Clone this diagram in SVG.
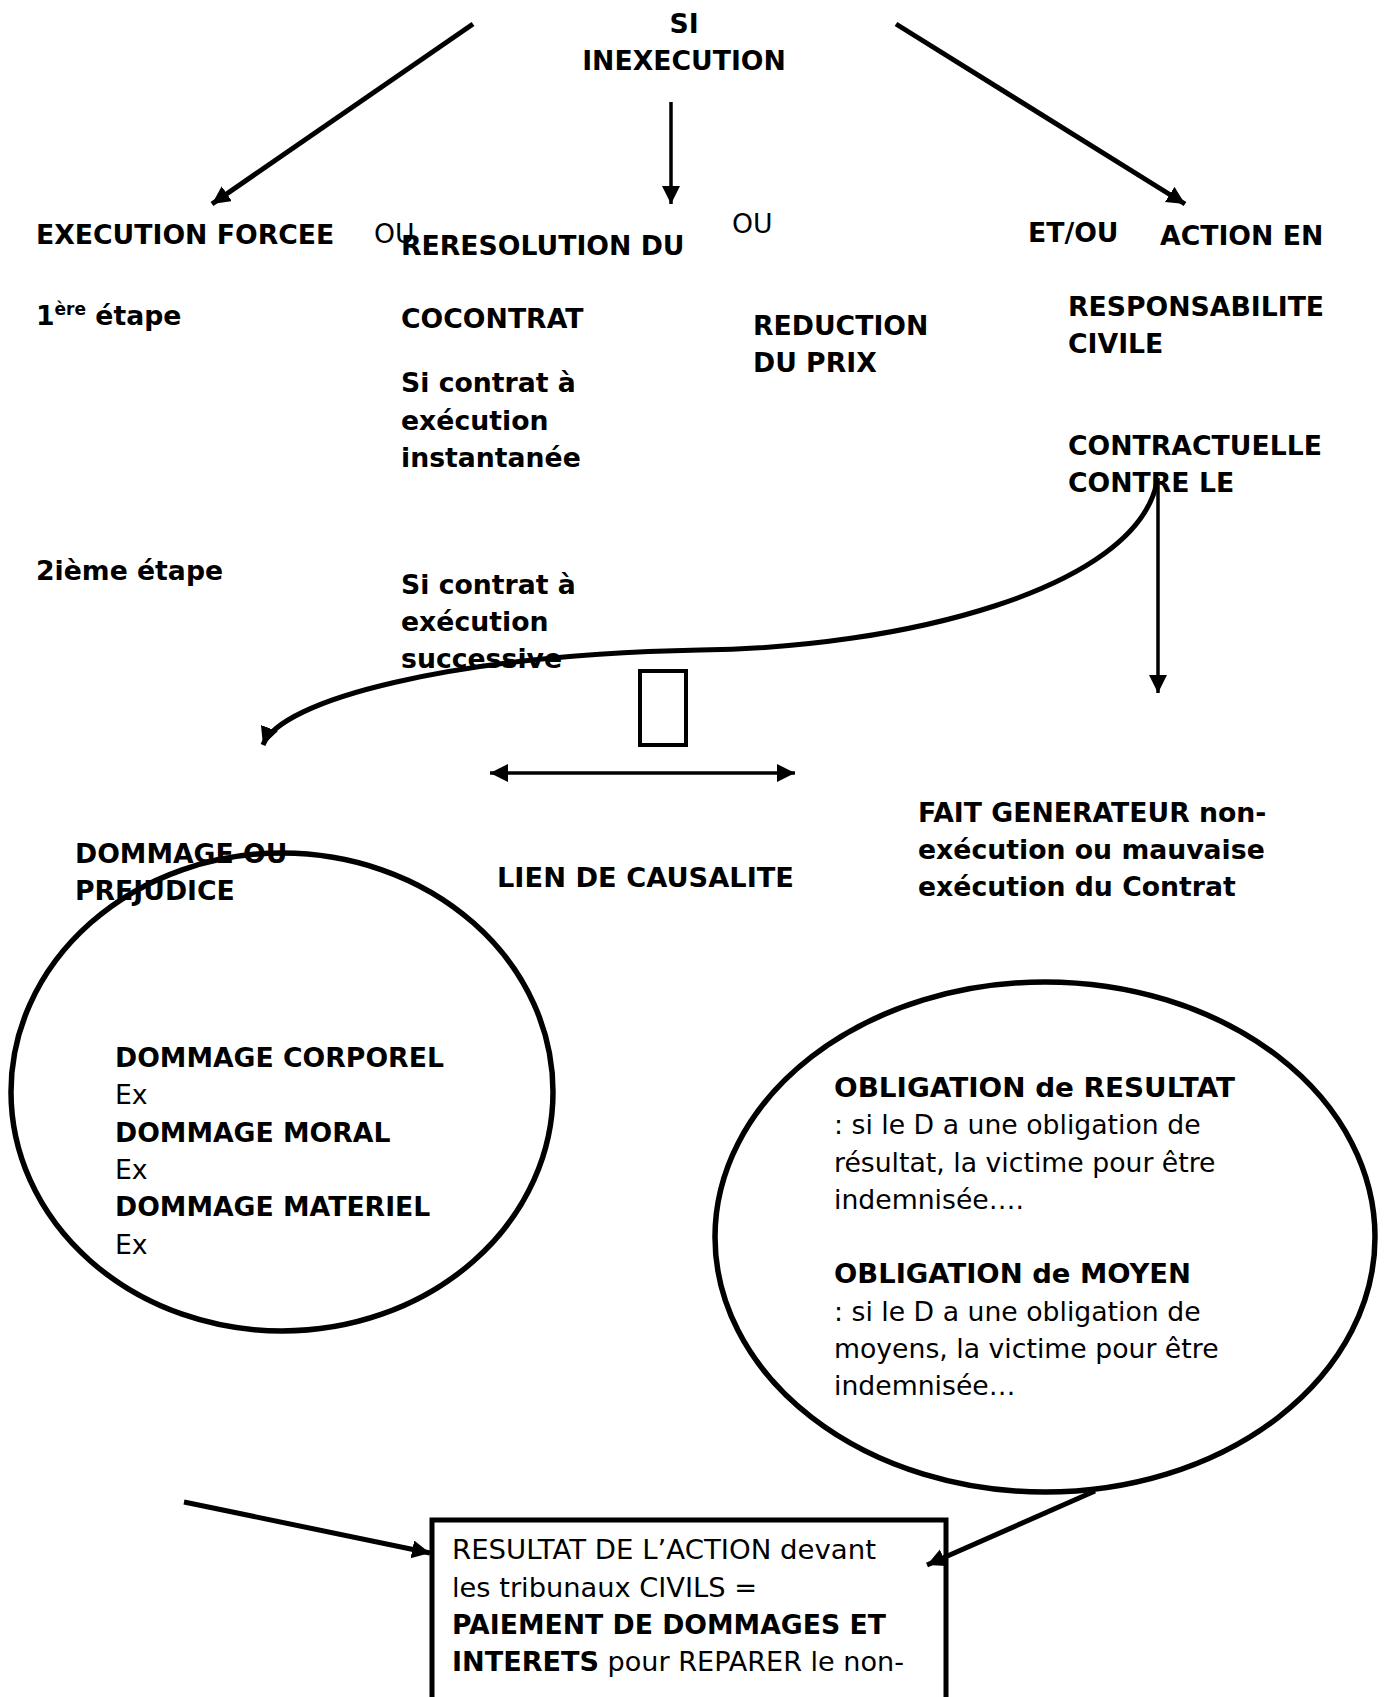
<svg xmlns="http://www.w3.org/2000/svg" width="1386" height="1697" viewBox="0 0 1386 1697">
<defs>
<style>
text{font-family:"DejaVu Sans",Verdana,sans-serif;font-size:26.7px;fill:#000}
.b{font-weight:bold}
.line{stroke:#000;fill:none;stroke-width:5}
.thin{stroke:#000;fill:none;stroke-width:3.5}
.shape{stroke:#000;fill:none;stroke-width:5.5}
</style>
<marker id="ah" markerUnits="userSpaceOnUse" markerWidth="22" markerHeight="20" refX="18" refY="9" orient="auto">
<path d="M0,0 L18,9 L0,18 Z" fill="#000"/>
</marker>
<marker id="ahs" markerUnits="userSpaceOnUse" markerWidth="22" markerHeight="20" refX="0" refY="9" orient="auto">
<path d="M18,0 L0,9 L18,18 Z" fill="#000"/>
</marker>
</defs>
<rect width="1386" height="1697" fill="#fff"/>

<g id="connectors">
<line class="line" x1="473" y1="24" x2="212" y2="204" marker-end="url(#ah)"/>
<line class="thin" x1="671" y1="102" x2="671" y2="204" marker-end="url(#ah)"/>
<line class="line" x1="896" y1="24" x2="1185" y2="204" marker-end="url(#ah)"/>
<line class="thin" x1="1158" y1="478" x2="1158" y2="693" marker-end="url(#ah)"/>
<path class="line" d="M1157,482 C1135,590 900,648 700,650 C450,655 280,700 263,745" marker-end="url(#ah)"/>
<line class="thin" x1="490" y1="773" x2="795" y2="773" marker-start="url(#ahs)" marker-end="url(#ah)"/>
<line class="line" x1="184" y1="1502" x2="430" y2="1553" marker-end="url(#ah)"/>
<line class="line" x1="1095" y1="1491" x2="927" y2="1565" marker-end="url(#ah)"/>
</g>

<g id="n-si">
<text class="b" x="684" y="33" text-anchor="middle">SI</text>
<text class="b" x="684" y="70" text-anchor="middle">INEXECUTION</text>
</g>

<g id="n-execution">
<text class="b" x="36" y="244">EXECUTION FORCEE</text>
<text x="374" y="243">OU</text>
<text class="b" x="36" y="325">1<tspan font-size="17" dy="-10">ère</tspan><tspan dy="10"> étape</tspan></text>
<text class="b" x="36" y="580">2ième étape</text>
</g>

<g id="n-resolution">
<text class="b" x="401" y="255">RERESOLUTION DU</text>
<text class="b" x="401" y="328">COCONTRAT</text>
<text class="b" x="401" y="392">Si contrat à</text>
<text class="b" x="401" y="430">exécution</text>
<text class="b" x="401" y="467">instantanée</text>
<text class="b" x="401" y="594">Si contrat à</text>
<text class="b" x="401" y="631">exécution</text>
<text class="b" x="401" y="668">successive</text>
</g>

<g id="n-reduction">
<text x="732" y="233">OU</text>
<text class="b" x="753" y="335">REDUCTION</text>
<text class="b" x="753" y="372">DU PRIX</text>
</g>

<g id="n-action">
<text class="b" x="1028" y="242">ET/OU</text>
<text class="b" x="1160" y="245">ACTION EN</text>
<text class="b" x="1068" y="316">RESPONSABILITE</text>
<text class="b" x="1068" y="353">CIVILE</text>
<text class="b" x="1068" y="455">CONTRACTUELLE</text>
<text class="b" x="1068" y="492">CONTRE LE</text>
</g>

<g id="n-glyph">
<rect x="640" y="671" width="46" height="74" fill="none" stroke="#000" stroke-width="4"/>
</g>

<g id="n-lien">
<text class="b" x="497" y="887" textLength="297" lengthAdjust="spacingAndGlyphs">LIEN DE CAUSALITE</text>
</g>

<g id="n-fait">
<text class="b" x="918" y="822">FAIT GENERATEUR non-</text>
<text class="b" x="918" y="859">exécution ou mauvaise</text>
<text class="b" x="918" y="896">exécution du Contrat</text>
</g>

<g id="n-dommage">
<text class="b" x="75" y="863">DOMMAGE OU</text>
<text class="b" x="75" y="900">PREJUDICE</text>
<ellipse class="shape" cx="282" cy="1092" rx="271" ry="239"/>
<text class="b" x="115" y="1067">DOMMAGE CORPOREL</text>
<text x="115" y="1104">Ex</text>
<text class="b" x="115" y="1142">DOMMAGE MORAL</text>
<text x="115" y="1179">Ex</text>
<text class="b" x="115" y="1216">DOMMAGE MATERIEL</text>
<text x="115" y="1254">Ex</text>
</g>

<g id="n-obligation">
<ellipse class="shape" cx="1045" cy="1237" rx="330" ry="255"/>
<text class="b" x="834" y="1097" textLength="401" lengthAdjust="spacingAndGlyphs">OBLIGATION de RESULTAT</text>
<text x="834" y="1134">: si le D a une obligation de</text>
<text x="834" y="1172">résultat, la victime pour être</text>
<text x="834" y="1209">indemnisée….</text>
<text class="b" x="834" y="1283" textLength="357" lengthAdjust="spacingAndGlyphs">OBLIGATION de MOYEN</text>
<text x="834" y="1321">: si le D a une obligation de</text>
<text x="834" y="1358">moyens, la victime pour être</text>
<text x="834" y="1395">indemnisée…</text>
</g>

<g id="n-resultat">
<rect x="432" y="1520" width="514" height="220" fill="none" stroke="#000" stroke-width="5"/>
<text x="452" y="1559" textLength="424" lengthAdjust="spacingAndGlyphs">RESULTAT DE L’ACTION devant</text>
<text x="452" y="1597" textLength="305" lengthAdjust="spacingAndGlyphs">les tribunaux CIVILS =</text>
<text class="b" x="452" y="1634">PAIEMENT DE DOMMAGES ET</text>
<text x="452" y="1671" textLength="452" lengthAdjust="spacingAndGlyphs"><tspan class="b">INTERETS</tspan> pour REPARER le non-</text>
</g>
</svg>
